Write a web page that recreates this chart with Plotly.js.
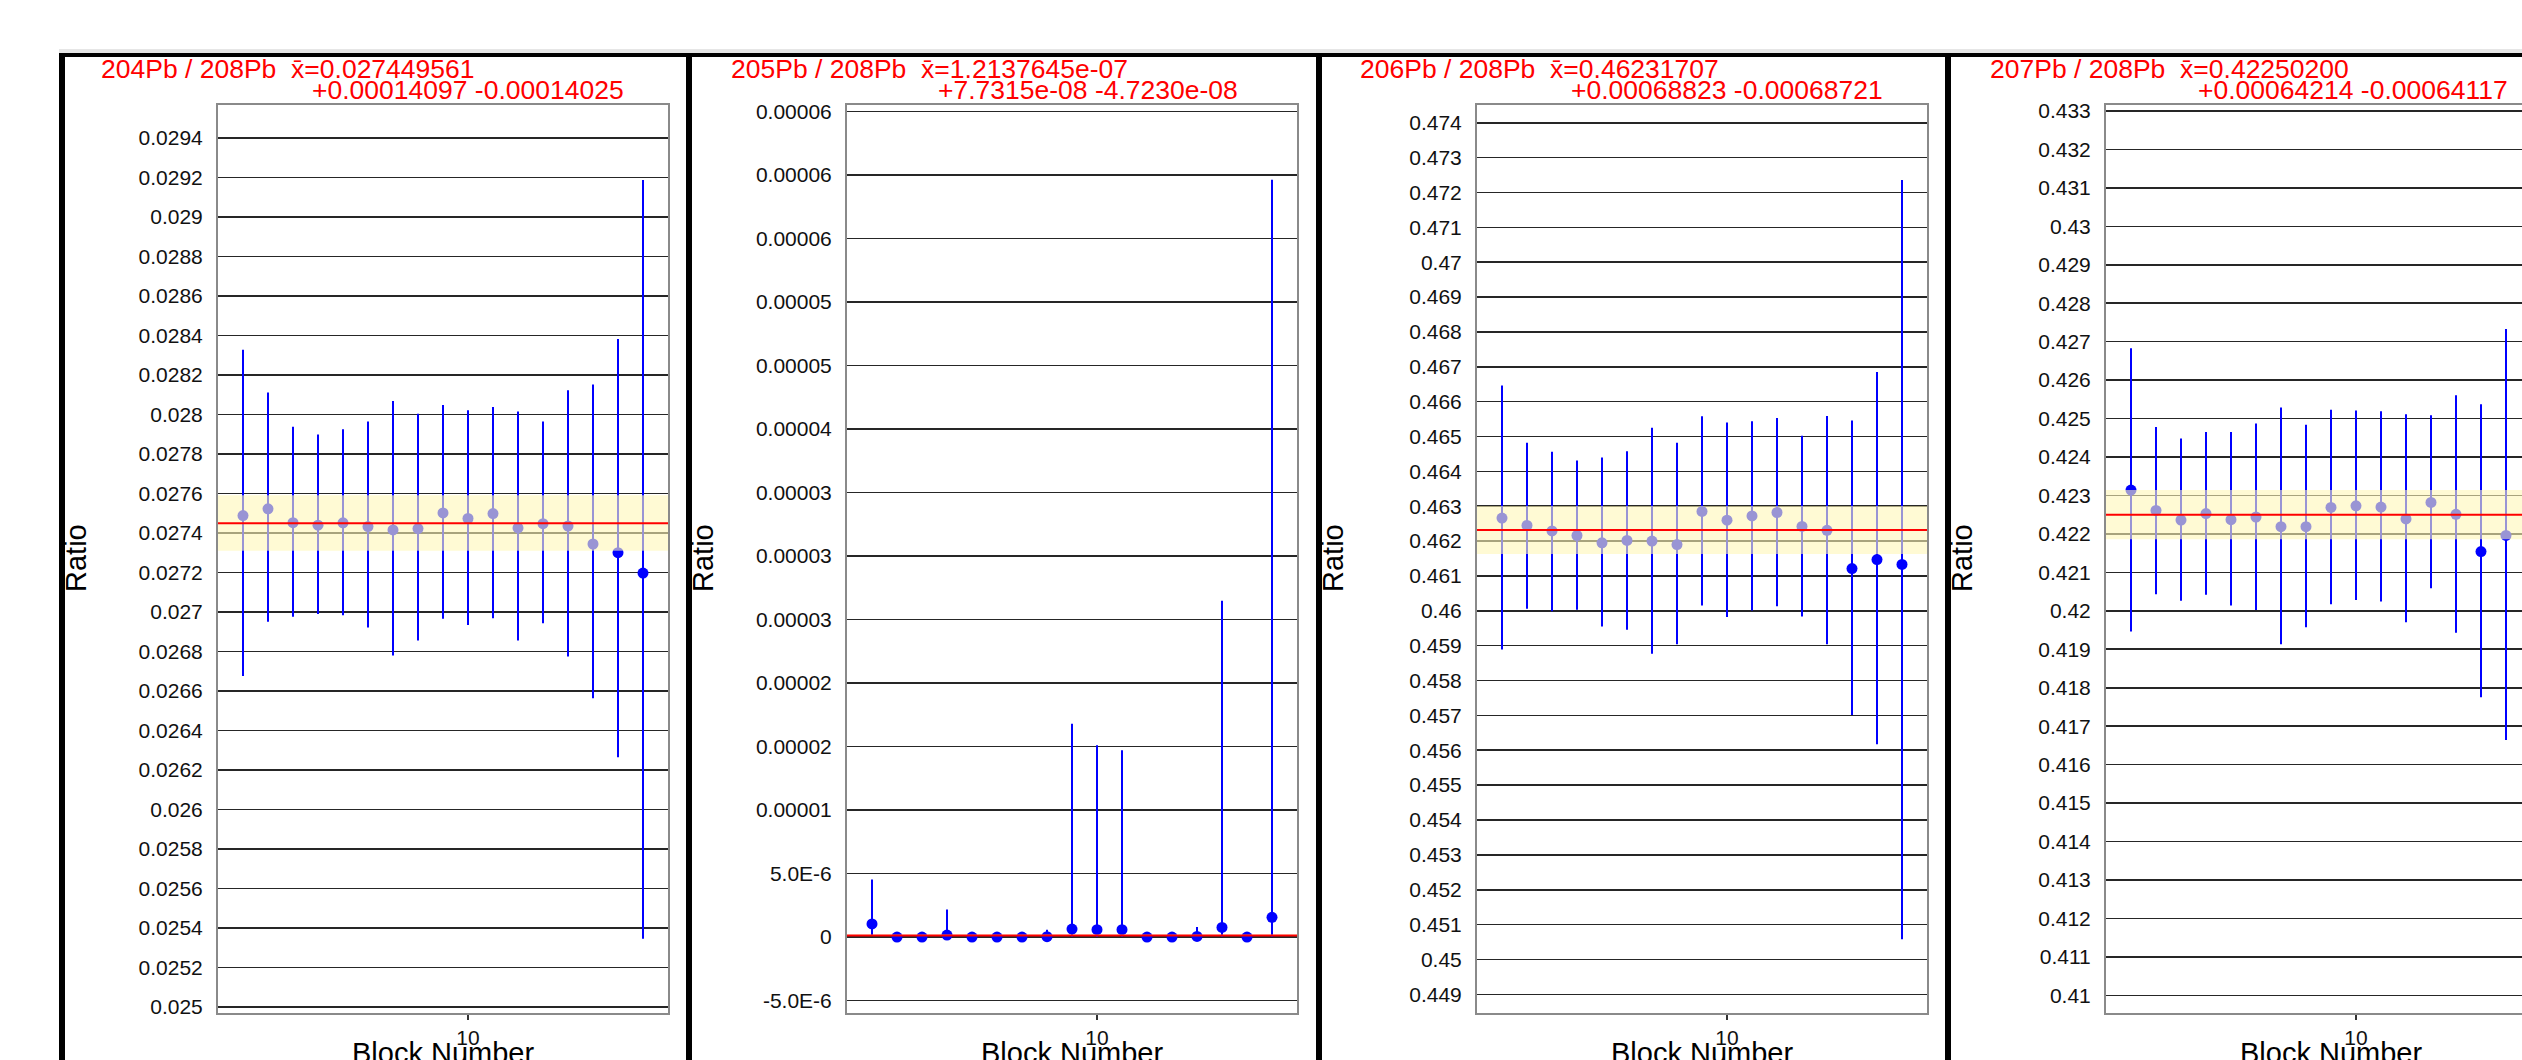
<!DOCTYPE html>
<html>
<head>
<meta charset="utf-8">
<script src="https://cdn.plot.ly/plotly-3.0.1.min.js"></script>
<style>
html,body{margin:0;padding:0;background:#fff;overflow:hidden;}
#wrap{width:2522px;height:1060px;overflow:hidden;position:relative;}
#chart{width:2600px;height:1080px;}
</style>
</head>
<body>
<div id="wrap"><div id="chart"></div></div>
<script>
// ---------------- data ----------------
const blocks = [1,2,3,4,5,6,7,8,9,10,11,12,13,14,15,16,17];
const blocks4 = [1,2,3,4,5,6,7,8,9,10,11,12,13,14,15,16];

const ratioNames = ["204Pb / 208Pb", "205Pb / 208Pb", "206Pb / 208Pb", "207Pb / 208Pb"];
const meanText = ["0.027449561", "1.2137645e-07", "0.46231707", "0.42250200"];
const plusText = ["+0.00014097", "+7.7315e-08", "+0.00068823", "+0.00064214"];
const minusText = ["-0.00014025", "-4.7230e-08", "-0.00068721", "-0.00064117"];
const means = [0.027449561, 1.2137645e-07, 0.46231707, 0.42250200];
const plusUnc = [0.00014097, 7.7315e-08, 0.00068823, 0.00064214];
const minusUnc = [0.00014025, 4.7230e-08, 0.00068721, 0.00064117];

// 204/208
const val1 = [0.027488, 0.027522, 0.027452, 0.027439, 0.027451, 0.027432, 0.027415, 0.027422, 0.027501, 0.027473, 0.027498, 0.027425, 0.027447, 0.027435, 0.027344, 0.0273, 0.027197];
const hi1 = [0.028327, 0.028111, 0.027938, 0.027898, 0.027925, 0.027964, 0.028068, 0.028003, 0.028048, 0.028021, 0.028038, 0.028014, 0.027964, 0.028122, 0.028151, 0.028382, 0.029187];
const lo1 = [0.026676, 0.026951, 0.026976, 0.02699, 0.026983, 0.026921, 0.026779, 0.026855, 0.026965, 0.026934, 0.026968, 0.026855, 0.026943, 0.026774, 0.026563, 0.026264, 0.025346];

// 205/208
const val2 = [1.03e-6, 0, 0, 1.6e-7, 0, 0, 0, 3e-8, 6.3e-7, 5.8e-7, 5.8e-7, 0, 0, 5e-8, 7.6e-7, 0, 1.55e-6];
const hi2 = [4.53e-6, 0, 0, 2.16e-6, 0, 0, 0, 5.8e-7, 1.68e-5, 1.51e-5, 1.47e-5, 0, 0, 7.9e-7, 2.648e-5, 0, 5.963e-5];
const lo2 = [1.3e-7, 0, 0, 0, 0, 0, 0, 0, 0, 0, 0, 0, 0, 0, 0, 0, 0];

// 206/208
const val3 = [0.46266, 0.46245, 0.46229, 0.46216, 0.46195, 0.46202, 0.462, 0.4619, 0.46285, 0.4626, 0.46272, 0.46282, 0.46242, 0.46231, 0.46121, 0.46147, 0.46133];
const hi3 = [0.46646, 0.46482, 0.46456, 0.46431, 0.4644, 0.46458, 0.46525, 0.46482, 0.46558, 0.4654, 0.46544, 0.46553, 0.46502, 0.46559, 0.46546, 0.46685, 0.47236];
const lo3 = [0.45889, 0.46006, 0.45999, 0.46003, 0.45955, 0.45946, 0.45877, 0.45904, 0.46015, 0.45982, 0.46001, 0.46013, 0.45984, 0.45904, 0.45701, 0.45617, 0.45058];

// 207/208
const val4 = [0.42314, 0.42261, 0.42236, 0.42253, 0.42237, 0.42244, 0.42219, 0.42219, 0.42269, 0.42273, 0.4227, 0.42239, 0.42282, 0.42251, 0.42154, 0.42196];
const hi4 = [0.42683, 0.42478, 0.42448, 0.42465, 0.42465, 0.42487, 0.42529, 0.42484, 0.42523, 0.42521, 0.42519, 0.42511, 0.42509, 0.42561, 0.42537, 0.42733];
const lo4 = [0.41946, 0.42043, 0.42026, 0.42042, 0.42014, 0.42002, 0.41913, 0.41957, 0.42017, 0.42028, 0.42024, 0.4197, 0.42059, 0.41943, 0.41775, 0.41664];

// tick values / labels
const xTickVals = [10];
const xTickText = ["10"];

const yTick1 = [0.025,0.0252,0.0254,0.0256,0.0258,0.026,0.0262,0.0264,0.0266,0.0268,0.027,0.0272,0.0274,0.0276,0.0278,0.028,0.0282,0.0284,0.0286,0.0288,0.029,0.0292,0.0294];
const yText1 = ["0.025","0.0252","0.0254","0.0256","0.0258","0.026","0.0262","0.0264","0.0266","0.0268","0.027","0.0272","0.0274","0.0276","0.0278","0.028","0.0282","0.0284","0.0286","0.0288","0.029","0.0292","0.0294"];

const yTick2 = [-5e-6,0,5e-6,1e-5,1.5e-5,2e-5,2.5e-5,3e-5,3.5e-5,4e-5,4.5e-5,5e-5,5.5e-5,6e-5,6.5e-5];
const yText2 = ["-5.0E-6","0","5.0E-6","0.00001","0.00002","0.00002","0.00003","0.00003","0.00003","0.00004","0.00005","0.00005","0.00006","0.00006","0.00006"];

const yTick3 = [0.449,0.45,0.451,0.452,0.453,0.454,0.455,0.456,0.457,0.458,0.459,0.46,0.461,0.462,0.463,0.464,0.465,0.466,0.467,0.468,0.469,0.47,0.471,0.472,0.473,0.474];
const yText3 = ["0.449","0.45","0.451","0.452","0.453","0.454","0.455","0.456","0.457","0.458","0.459","0.46","0.461","0.462","0.463","0.464","0.465","0.466","0.467","0.468","0.469","0.47","0.471","0.472","0.473","0.474"];

const yTick4 = [0.41,0.411,0.412,0.413,0.414,0.415,0.416,0.417,0.418,0.419,0.42,0.421,0.422,0.423,0.424,0.425,0.426,0.427,0.428,0.429,0.43,0.431,0.432,0.433];
const yText4 = ["0.41","0.411","0.412","0.413","0.414","0.415","0.416","0.417","0.418","0.419","0.42","0.421","0.422","0.423","0.424","0.425","0.426","0.427","0.428","0.429","0.43","0.431","0.432","0.433"];

// ---------------- layout geometry (pixels) ----------------
const W = 2600, H = 1080;
const plotLeft = [218, 847, 1477, 2106];
const plotWidth = 450;
const plotTop = 105, plotBottom = 1013;
const yRanges = [[0.02497, 0.029566], [-5.98e-6, 6.551e-5], [0.448464, 0.474508], [0.40954, 0.433156]];
const xRange = [0, 18];
const borderX = [59, 686, 1316, 1945];
const title1X = [99, 729, 1358, 1988];
const title2X = [310, 936, 1569, 2196];

const px = x => x / W;
const py = y => 1 - y / H;

const series = [
  {x: blocks, v: val1, hi: hi1, lo: lo1, yt: yTick1, ytx: yText1},
  {x: blocks, v: val2, hi: hi2, lo: lo2, yt: yTick2, ytx: yText2},
  {x: blocks, v: val3, hi: hi3, lo: lo3, yt: yTick3, ytx: yText3},
  {x: blocks4, v: val4, hi: hi4, lo: lo4, yt: yTick4, ytx: yText4}
];

const FONT = "Liberation Sans, Arial, Helvetica, sans-serif";
const traces = [];
const layout = {
  width: W, height: H,
  margin: {l: 0, r: 0, t: 0, b: 0, pad: 0},
  paper_bgcolor: "#ffffff", plot_bgcolor: "#ffffff",
  showlegend: false,
  font: {family: FONT, color: "#111"},
  shapes: [], annotations: []
};

series.forEach((s, i) => {
  const n = i === 0 ? "" : String(i + 1);
  traces.push({
    type: "scatter", mode: "markers",
    x: s.x, y: s.v,
    xaxis: "x" + n, yaxis: "y" + n,
    marker: {color: "#0000ff", size: 11, line: {width: 0}},
    error_y: {
      type: "data", symmetric: false,
      array: s.hi.map((h, k) => h - s.v[k]),
      arrayminus: s.lo.map((l, k) => s.v[k] - l),
      color: "#0000ff", thickness: 2, width: 0
    },
    hoverinfo: "skip"
  });
  layout["xaxis" + n] = {
    domain: [px(plotLeft[i]), px(plotLeft[i] + plotWidth)],
    range: xRange, anchor: "y" + n,
    tickmode: "array", tickvals: xTickVals, ticktext: xTickText,
    ticks: "outside", ticklen: 5, tickwidth: 1.5, tickcolor: "#333",
    tickfont: {size: 21, color: "#111", family: FONT},
    showgrid: false, zeroline: false,
    showline: true, mirror: true, linecolor: "#8a8a8a", linewidth: 2
  };
  layout["yaxis" + n] = {
    domain: [py(plotBottom), py(plotTop)],
    range: yRanges[i], anchor: "x" + n,
    tickmode: "array", tickvals: s.yt, ticktext: s.ytx,
    ticks: "", ticklabelstandoff: 9,
    tickfont: {size: 21, color: "#111", family: FONT},
    showgrid: true, gridcolor: "#262626", gridwidth: 1.6,
    zeroline: false,
    showline: true, mirror: true, linecolor: "#8a8a8a", linewidth: 2
  };
  // uncertainty band (semi-transparent, over data)
  layout.shapes.push({
    type: "rect", xref: "x" + n + " domain", yref: "y" + n,
    x0: 0, x1: 1, y0: means[i] - minusUnc[i], y1: means[i] + plusUnc[i],
    fillcolor: "rgba(255,247,183,0.6)", line: {width: 0}, layer: "above"
  });
  // mean line
  layout.shapes.push({
    type: "line", xref: "x" + n + " domain", yref: "y" + n,
    x0: 0, x1: 1, y0: means[i], y1: means[i],
    line: {color: "#ff0000", width: 2}, layer: "above"
  });
  // titles
  layout.annotations.push({
    xref: "paper", yref: "paper", x: px(title1X[i]), y: py(69),
    xanchor: "left", yanchor: "middle", showarrow: false,
    text: ratioNames[i] + "\u00a0\u00a0x\u0304=" + meanText[i],
    font: {size: 26.5, color: "#ff0000", family: FONT}
  });
  layout.annotations.push({
    xref: "paper", yref: "paper", x: px(title2X[i]), y: py(89.5),
    xanchor: "left", yanchor: "middle", showarrow: false,
    text: plusText[i] + "\u00a0" + minusText[i],
    font: {size: 26.5, color: "#ff0000", family: FONT}
  });
  // y axis title
  layout.annotations.push({
    xref: "paper", yref: "paper", x: px(borderX[i] + 17), y: py(558),
    xanchor: "center", yanchor: "middle", showarrow: false, textangle: -90,
    text: "Ratio", font: {size: 29, color: "#000", family: FONT}
  });
  // x axis title
  layout.annotations.push({
    xref: "paper", yref: "paper", x: px(plotLeft[i] + plotWidth / 2), y: py(1053),
    xanchor: "center", yanchor: "middle", showarrow: false,
    text: "Block Number", font: {size: 29, color: "#000", family: FONT}
  });
  // panel border (vertical)
  layout.shapes.push({
    type: "rect", xref: "paper", yref: "paper",
    x0: px(borderX[i]), x1: px(borderX[i] + 6), y0: 0, y1: py(53),
    fillcolor: "#000", line: {width: 0}, layer: "above"
  });
});
// top border and window shadow strip
layout.shapes.push({
  type: "rect", xref: "paper", yref: "paper",
  x0: px(borderX[0]), x1: 1, y0: py(57), y1: py(53),
  fillcolor: "#000", line: {width: 0}, layer: "above"
});
layout.shapes.push({
  type: "rect", xref: "paper", yref: "paper",
  x0: px(borderX[0]), x1: 1, y0: py(53), y1: py(49),
  fillcolor: "#e6e6e6", line: {width: 0}, layer: "above"
});

Plotly.newPlot("chart", traces, layout, {staticPlot: true, displayModeBar: false});
</script>
</body>
</html>
